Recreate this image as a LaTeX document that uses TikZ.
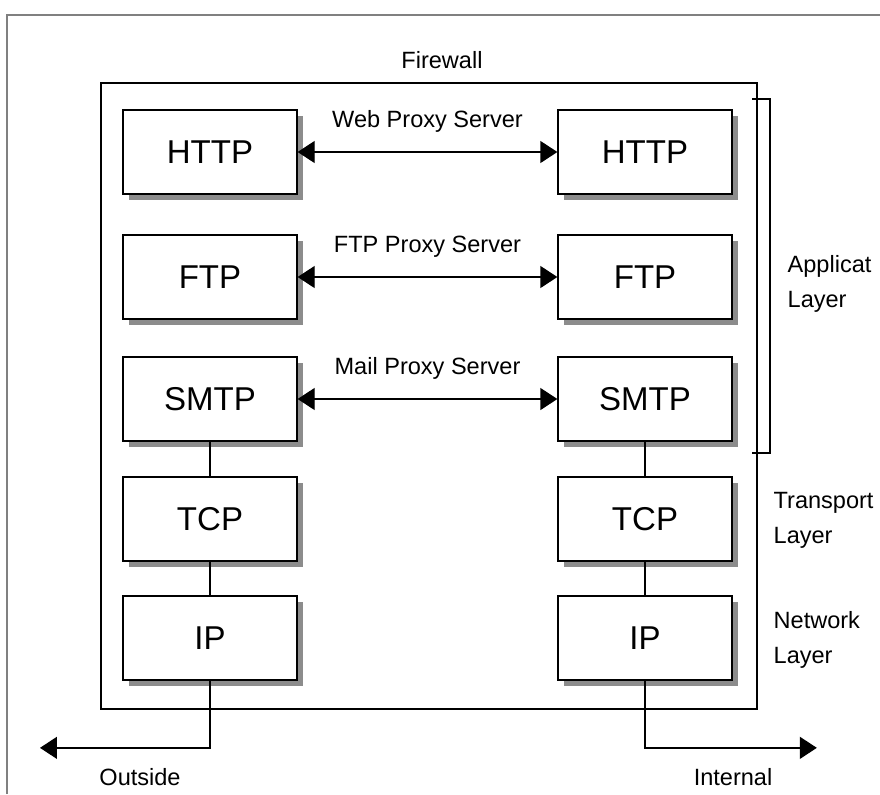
\documentclass[tikz,border=0pt]{standalone}
\usepackage{fontspec}
\setmainfont{Liberation Sans}
\usetikzlibrary{arrows.meta,shadows}

\def\s{0.02}
\def\punkt#1#2{({(#1)*\s},{-(#2)*\s})}

\begin{document}
\begin{tikzpicture}[>={Triangle[length=0.34cm,width=0.44cm]},line width=0.75pt,
  layerbox/.style={draw,fill=white,minimum width={174*\s*1cm},minimum height={84*\s*1cm},
    inner sep=0pt,font=\fontsize{18.8}{22}\selectfont,
    drop shadow={shadow xshift=0.12cm,shadow yshift=-0.12cm,fill=black!45,opacity=1}},
  lbl/.style={inner sep=0pt,align=left,font=\fontsize{13.4}{19.8}\selectfont}]
\useasboundingbox \punkt{0}{0} rectangle \punkt{880}{794};
\draw[color=gray,line width=0.04cm] \punkt{7}{794} |- \punkt{880}{15};
\node[lbl] (fwname) at \punkt{442}{60} {Firewall};
\draw \punkt{101}{83} rectangle \punkt{757}{709};
\draw \punkt{752}{99} -| \punkt{770}{453} -- \punkt{752}{453};
\foreach \n/\t/\y in {http/HTTP/152,ftp/FTP/277,smtp/SMTP/399,tcp/TCP/519,ip/IP/638}{
	\node[layerbox] (l\n) at \punkt{210}{\y} {\t};
	\node[layerbox] (r\n) at \punkt{645}{\y} {\t};
}
\foreach \n/\t in {http/Web Proxy Server,ftp/FTP Proxy Server,smtp/Mail Proxy Server}{
	\draw[<->] (l\n) -- (r\n) node[midway,above=0.38cm,lbl] {\t};
}
\foreach \side in {l,r}{
	\draw (\side smtp) -- (\side tcp);
	\draw (\side tcp) -- (\side ip);
}
\coordinate (outend) at (0.8,-14.96);
\coordinate (inend) at (16.34,-14.96);
\draw[->] (lip.south) |- (outend);
\draw[->] (rip.south) |- (inend);
\node[lbl] (outsidename) at \punkt{140}{777} {Outside};
\node[lbl] (internalname) at \punkt{733}{777} {Internal};
\node[lbl,anchor=west] (applayer) at \punkt{787}{284} {Applicat\\Layer};
\node[lbl,anchor=west] (translayer) at \punkt{773}{520} {Transport\\Layer};
\node[lbl,anchor=west] (netlayer) at \punkt{773}{640} {Network\\Layer};
\end{tikzpicture}
\end{document}
